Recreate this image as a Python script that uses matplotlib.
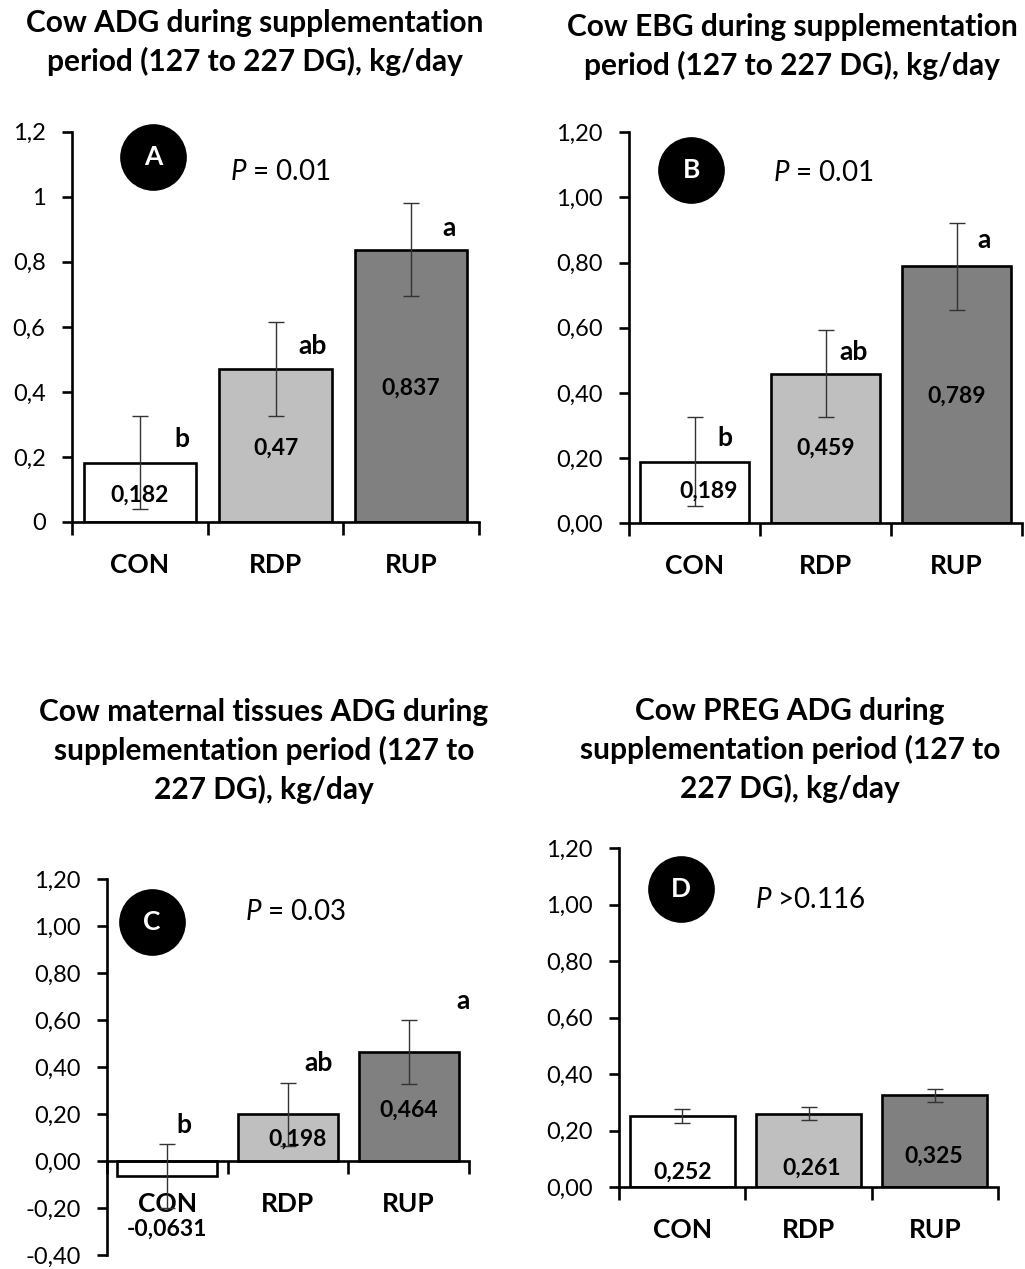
"""
Cow weight gain during supplementation period – 4 panel bar chart
"""

import matplotlib.pyplot as plt
from matplotlib.ticker import FuncFormatter

plt.rcParams["font.family"] = ["Lato", "DejaVu Sans"]
plt.rcParams["mathtext.fontset"] = "custom"
plt.rcParams["mathtext.rm"] = "Lato"
plt.rcParams["mathtext.it"] = "Lato:italic"
plt.rcParams["mathtext.bf"] = "Lato:bold"

W, H = 1025, 1269

# ── Data ──────────────────────────────────────────────────────────────────
categories = ["CON", "RDP", "RUP"]

adg_mean = [0.182, 0.47, 0.837]
adg_err = [0.143, 0.144, 0.143]
adg_letters = ["b", "ab", "a"]

ebg_mean = [0.189, 0.459, 0.789]
ebg_err = [0.137, 0.134, 0.134]
ebg_letters = ["b", "ab", "a"]

mat_mean = [-0.0631, 0.198, 0.464]
mat_err = [0.135, 0.133, 0.136]
mat_letters = ["b", "ab", "a"]

preg_mean = [0.252, 0.261, 0.325]
preg_err = [0.025, 0.024, 0.024]

BAR_COLORS = ["#FFFFFF", "#BFBFBF", "#808080"]
TITLE_KW = dict(ha="center", va="center", fontsize=21.5, fontweight="bold",
                linespacing=1.42)


def px_axes(left, right, top, bottom):
    """Axes rectangle from pixel edges (origin top-left)."""
    return [left / W, 1 - bottom / H, (right - left) / W, (bottom - top) / H]


def fmt_general(v, _):
    return f"{round(v, 2):g}".replace(".", ",")


def fmt_two(v, _):
    return f"{v:.2f}".replace(".", ",").replace("-0,00", "0,00")


def draw_panel(ax, means, errs, letters, ylim, formatter, badge, ptext,
               badge_xy, p_xy, val_off, let_off):
    x = list(range(len(categories)))
    ax.bar(x, means, width=0.83, color=BAR_COLORS, edgecolor="black",
           linewidth=1.9, zorder=2)
    ax.errorbar(x, means, yerr=errs, fmt="none", ecolor="#333333",
                elinewidth=1.0, capsize=6, capthick=1.0, zorder=3)

    # spines first: moving the spine resets the tick objects
    for s in ("top", "right"):
        ax.spines[s].set_visible(False)
    for s in ("left", "bottom"):
        ax.spines[s].set_linewidth(1.9)
    ax.spines["bottom"].set_position(("data", 0))

    ax.set_xlim(-0.5, 2.5)
    ax.set_ylim(*ylim)
    ax.set_yticks([v / 10 for v in range(int(round(ylim[0] * 10)),
                                         int(round(ylim[1] * 10)) + 1, 2)])
    ax.yaxis.set_major_formatter(FuncFormatter(formatter))

    # category boundaries get the tick marks, names sit on minor ticks
    ax.set_xticks([-0.5, 0.5, 1.5, 2.5])
    ax.set_xticklabels([])
    ax.set_xticks(x, minor=True)
    ax.set_xticklabels(categories, minor=True, fontsize=19, fontweight="bold")
    ax.tick_params(axis="x", which="major", length=9, width=1.9, direction="out")
    ax.tick_params(axis="x", which="minor", length=0, pad=22)
    ax.tick_params(axis="y", length=7, width=1.9, direction="out", pad=12,
                   labelsize=17)

    # value labels
    for i, (m, (dx, dy)) in enumerate(zip(means, val_off)):
        txt = f"{m:g}".replace(".", ",")
        ax.annotate(txt, (i, m / 2), xytext=(dx, dy), textcoords="offset points",
                    ha="center", va="center", fontsize=16.5, fontweight="bold",
                    zorder=4)

    # significance letters
    if letters:
        for i, (m, lt, (dx, dy)) in enumerate(zip(means, letters, let_off)):
            ax.annotate(lt, (i, max(m, 0)), xytext=(dx, dy),
                        textcoords="offset points", ha="center", va="center",
                        fontsize=19, fontweight="bold")

    ax.plot(*badge_xy, "o", ms=47, color="black", transform=ax.transAxes,
            clip_on=False, zorder=5)
    ax.text(*badge_xy, badge, transform=ax.transAxes, ha="center", va="center",
            color="white", fontsize=19, fontweight="bold", zorder=6)
    ax.text(*p_xy, ptext, transform=ax.transAxes, ha="center", va="center",
            fontsize=20)


fig = plt.figure(figsize=(W / 100, H / 100), dpi=100)

# ── A. Cow ADG ────────────────────────────────────────────────────────────
ax_a = fig.add_axes(px_axes(72, 479, 131.7, 522))
draw_panel(ax_a, adg_mean, adg_err, adg_letters, (0, 1.2), fmt_general,
           "A", "$P$ = 0.01", (0.199, 0.935), (0.511, 0.897),
           val_off=[(0, -2), (0, -2), (0, -2)],
           let_off=[(30, 17), (27, 17), (27, 16)])
fig.text(255 / W, 1 - 42.5 / H,
         "Cow ADG during supplementation\nperiod (127 to 227 DG), kg/day",
         **TITLE_KW)

# ── B. Cow EBG ────────────────────────────────────────────────────────────
ax_b = fig.add_axes(px_axes(629, 1022, 132.3, 523.3))
draw_panel(ax_b, ebg_mean, ebg_err, ebg_letters, (0, 1.2), fmt_two,
           "B", "$P$ = 0.01", (0.158, 0.904), (0.494, 0.896),
           val_off=[(10, 1), (0, 0), (0, -1)],
           let_off=[(22, 17), (20, 16), (20, 19)])
fig.text(792 / W, 1 - 46.5 / H,
         "Cow EBG during supplementation\nperiod (127 to 227 DG), kg/day",
         **TITLE_KW)

# ── C. Cow maternal tissues ADG ───────────────────────────────────────────
ax_c = fig.add_axes(px_axes(107, 469, 879, 1255))
draw_panel(ax_c, mat_mean, mat_err, mat_letters, (-0.4, 1.2), fmt_two,
           "C", "$P$ = 0.03", (0.124, 0.886), (0.522, 0.912),
           val_off=[(0, -44), (7, -1), (0, -3)],
           let_off=[(12, 26), (22, 37), (39, 37)])
fig.text(264 / W, 1 - 751 / H,
         "Cow maternal tissues ADG during\nsupplementation period (127 to\n227 DG), kg/day",
         **TITLE_KW)

# ── D. Cow PREG ADG ───────────────────────────────────────────────────────
ax_d = fig.add_axes(px_axes(619, 998, 848.3, 1187.3))
draw_panel(ax_d, preg_mean, preg_err, None, (0, 1.2), fmt_two,
           "D", "$P$ >0.116", (0.164, 0.880), (0.504, 0.848),
           val_off=[(0, -15), (2, -13), (-1, -11)],
           let_off=None)
fig.text(790 / W, 1 - 750 / H,
         "Cow PREG ADG during\nsupplementation period (127 to\n227 DG), kg/day",
         **TITLE_KW)

fig.savefig("out.png", dpi=100, facecolor="white")
